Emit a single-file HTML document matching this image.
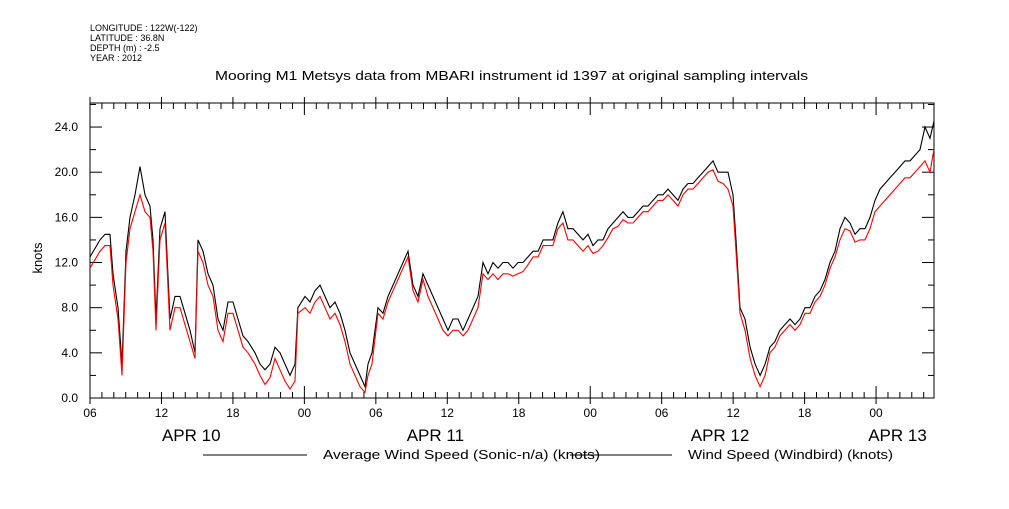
<!DOCTYPE html>
<html><head><meta charset="utf-8"><style>
body{margin:0;background:#fff;}
svg text{font-family:"Liberation Sans",sans-serif;fill:#000;}
</style></head><body>
<svg id="c" width="1009" height="504" xmlns="http://www.w3.org/2000/svg">
<g font-size="9">
<text x="90" y="31">LONGITUDE : 122W(-122)</text>
<text x="90" y="41">LATITUDE : 36.8N</text>
<text x="90" y="51">DEPTH (m) : -2.5</text>
<text x="90" y="61">YEAR : 2012</text>
</g>
<text x="215" y="80" font-size="13" textLength="593" lengthAdjust="spacingAndGlyphs">Mooring M1 Metsys data from MBARI instrument id 1397 at original sampling intervals</text>
<text x="42" y="258" font-size="13" text-anchor="middle" transform="rotate(-90 42 258)">knots</text>
<g id="axes"></g>
<g id="series"></g>
<g>
<line x1="203" y1="455" x2="307" y2="455" stroke="#000"/>
<text x="323" y="459" font-size="13" textLength="277" lengthAdjust="spacingAndGlyphs">Average Wind Speed (Sonic-n/a) (knots)</text>
<line x1="570" y1="455" x2="672" y2="455" stroke="#000"/>
<text x="688" y="459" font-size="13" textLength="205" lengthAdjust="spacingAndGlyphs">Wind Speed (Windbird) (knots)</text>
</g>
</svg>
<script>
const pxX=[90,100,105,110,113,118,122,126,130,135,140,145,150,153,156,160,165,170,175,180,185,190,195,198,203,208,213,218,223,228,233,238,243,248,255,260,265,270,275,280,285,290,295,298,305,310,315,320,325,330,335,340,345,350,355,360,365,368,372,378,383,388,393,398,403,408,413,418,423,428,433,438,443,448,453,458,463,468,473,478,483,488,493,498,503,508,513,518,523,528,533,538,543,548,553,558,563,568,573,578,583,588,593,598,603,608,613,618,623,628,633,638,643,648,653,658,663,668,673,678,683,688,693,698,703,708,713,718,723,728,733,736,740,745,750,755,760,765,770,775,780,785,790,795,800,805,810,815,820,825,830,835,840,845,850,855,860,865,870,875,880,885,890,895,900,905,910,915,920,925,930,934];
// times in hours since APR 10 06:00
const hours=pxX.map(x=>+((x-90)/11.91).toFixed(2));
const avgWind=[12.5,14,14.5,14.5,11,8,3,13,16,18,20.5,18,17,14,7,15,16.5,7,9,9,7.5,6,4,14,13,11,10,7,6,8.5,8.5,7,5.5,5,4,3,2.5,3,4.5,4,3,2,3,8,9,8.5,9.5,10,9,8,8.5,7.5,6,4,3,2,1,3,4,8,7.5,9,10,11,12,13,10,9,11,10,9,8,7,6,7,7,6,7,8,9,12,11,12,11.5,12,12,11.5,12,12,12.5,13,13,14,14,14,15.5,16.5,15,15,14.5,14,14.5,13.5,14,14,15,15.5,16,16.5,16,16,16.5,17,17,17.5,18,18,18.5,18,17.5,18.5,19,19,19.5,20,20.5,21,20,20,20,18,14,8,7,4.5,3,2,3,4.5,5,6,6.5,7,6.5,7,8,8,9,9.5,10.5,12,13,15,16,15.5,14.5,15,15,16,17.5,18.5,19,19.5,20,20.5,21,21,21.5,22,24,23,24.5];
const windbird=[11.5,13,13.5,13.5,10,7,2,12,15,16.5,18,16.5,16,13,6,14,15.5,6,8,8,6.5,5,3.5,13,12,10,9,6,5,7.5,7.5,6,4.5,4,3,2,1.2,1.8,3.5,2.5,1.5,0.8,1.5,7.5,8,7.5,8.5,9,8,7,7.5,6.5,5,3,2,1,0.5,2,3,7.5,7,8.5,9.5,10.5,11.5,12.5,9.5,8.5,10.5,9,8,7,6,5.5,6,6,5.5,6,7,8,11,10.5,11,10.5,11,11,10.8,11,11.2,11.8,12.5,12.5,13.5,13.5,13.5,15,15.5,14,14,13.5,13,13.5,12.8,13,13.5,14.2,15,15.2,15.8,15.5,15.5,16,16.5,16.5,17,17.5,17.5,18,17.5,17,18,18.5,18.5,19,19.5,20,20.2,19.2,19,18.5,17,13,7.5,6,3.5,2,1,2,4,4.5,5.5,6,6.5,6,6.5,7.5,7.5,8.5,9,10,11.5,12.5,14,15,14.8,13.8,14,14,15,16.5,17,17.5,18,18.5,19,19.5,19.5,20,20.5,21,20,22];
const yTicks=[0,4,8,12,16,20,24];
const yTickLabels=["0.0","4.0","8.0","12.0","16.0","20.0","24.0"];
const xTickLabels=["06","12","18","00","06","12","18","00","06","12","18","00"];
const dayLabels=["APR 10","APR 11","APR 12","APR 13"];
const dayHours=[8.5,29,52.9,67.8];

const NS="http://www.w3.org/2000/svg";
const L=90,R=934,T=103,B=398;
const xs=h=>L+h*11.91;
const ys=v=>B-v*11.29;
function mk(tag,attrs,parent){const e=document.createElementNS(NS,tag);for(const k in attrs)e.setAttribute(k,attrs[k]);parent.appendChild(e);return e;}
const ax=document.getElementById('axes');
const frame=mk('rect',{x:L,y:T,width:R-L,height:B-T,fill:'none',stroke:'#000'},ax);


for(let h=0;h*11.91+L<=R;h++){
  const x=xs(h);const big=h%24===18;const len=big?12:6;
  const t1=mk('line',{x1:x,y1:B,x2:x,y2:B-len,stroke:'#000'},ax);
  
  
  const t2=mk('line',{x1:x,y1:T,x2:x,y2:T+len,stroke:'#000'},ax);
  
  
  if(h%6===0){mk('line',{x1:x,y1:B,x2:x,y2:B+6,stroke:'#000'},ax);mk('line',{x1:x,y1:T,x2:x,y2:T-6,stroke:'#000'},ax);}
}
xTickLabels.forEach((s,i)=>{
  const t=mk('text',{x:xs(i*6),y:417,'font-size':12,'text-anchor':'middle'},ax);t.textContent=s;
  
  
});
dayLabels.forEach((s,i)=>{
  const t=mk('text',{x:xs(dayHours[i]),y:441,'font-size':17,'text-anchor':'middle'},ax);t.textContent=s;
  
  
});
for(let v=0;v<=26;v+=2){
  const y=ys(v);if(y<T)break;const len=v%4===0?12:6;
  const a=mk('line',{x1:L,y1:y,x2:L+len,y2:y,stroke:'#000'},ax);
  
  
  const b=mk('line',{x1:R,y1:y,x2:R-len,y2:y,stroke:'#000'},ax);
  
  
}
yTicks.forEach((v,i)=>{
  const t=mk('text',{x:78,y:ys(v)+4,'font-size':12,'text-anchor':'end'},ax);t.textContent=yTickLabels[i];
  
  
});
const sg=document.getElementById('series');
function line(vals,color,name){
  const p=mk('polyline',{points:vals.map((v,i)=>xs(hours[i]).toFixed(1)+','+ys(v).toFixed(1)).join(' '),fill:'none',stroke:color,'stroke-width':1.1},sg);
  
  
}
line(avgWind,'#000','average-wind-speed-line');
line(windbird,'#f00','windbird-wind-speed-line');
</script>
</body></html>
